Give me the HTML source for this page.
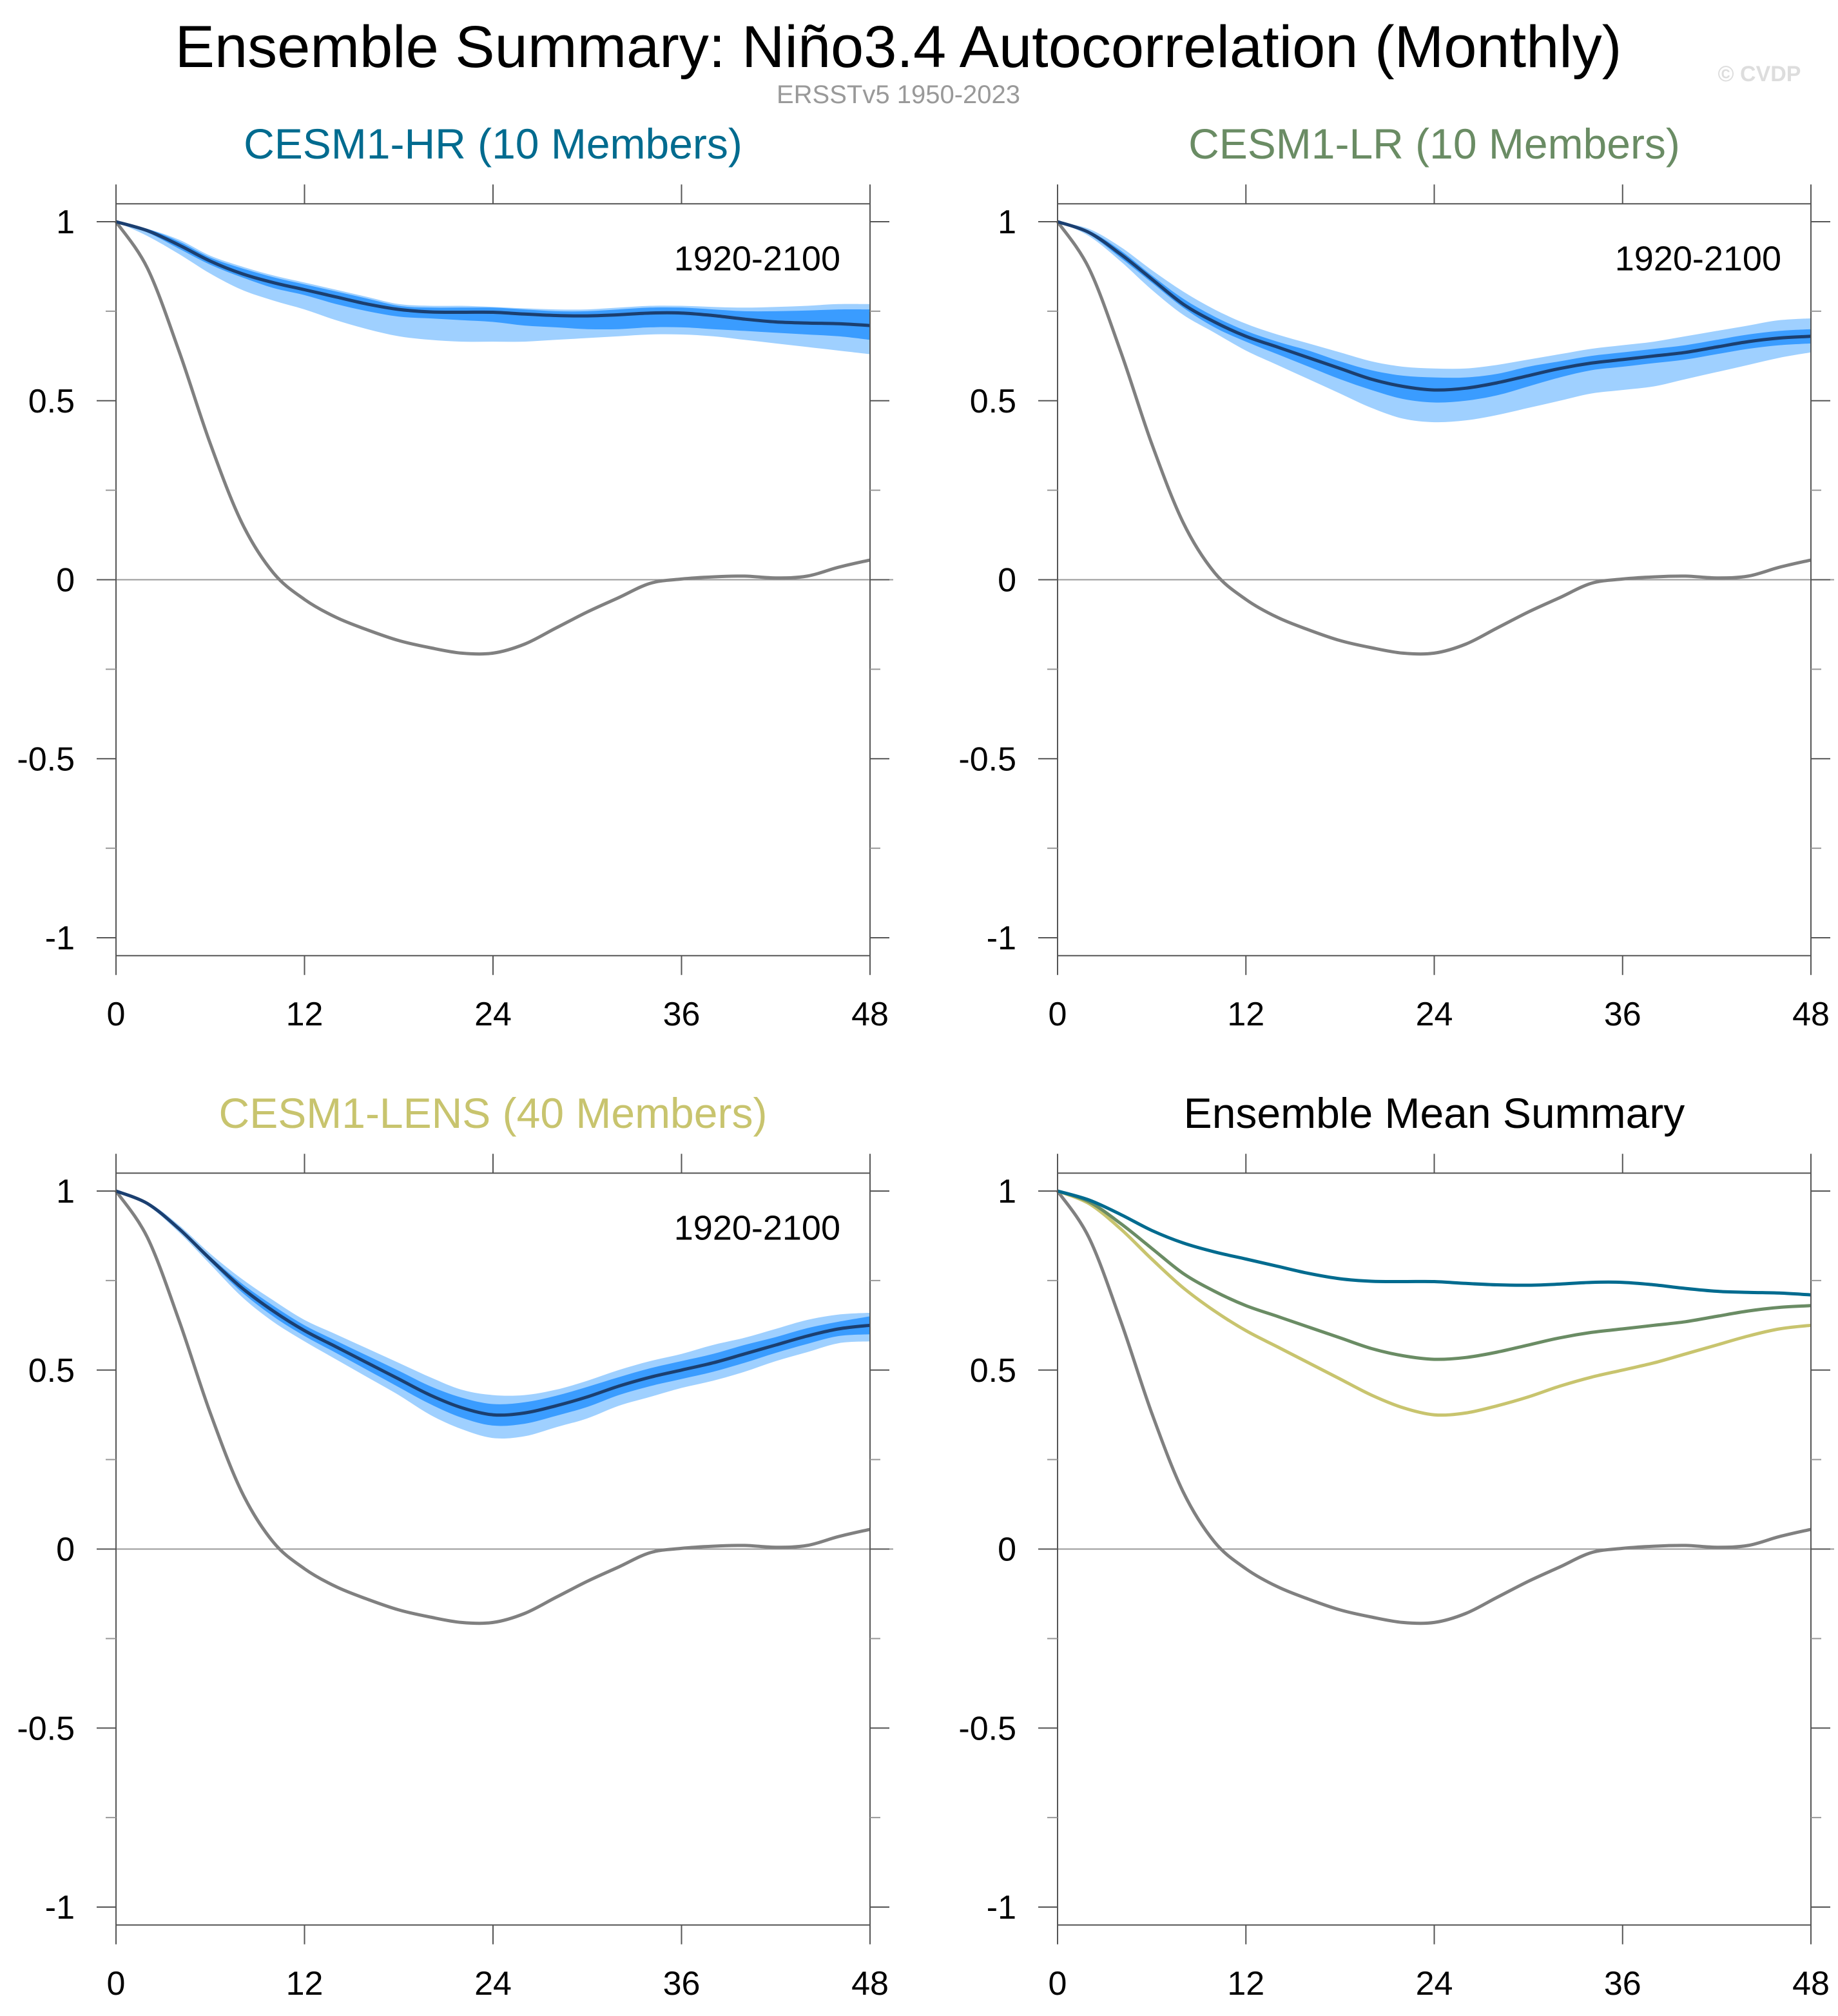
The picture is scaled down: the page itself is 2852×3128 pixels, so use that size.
<!DOCTYPE html>
<html><head><meta charset="utf-8">
<style>
html,body{margin:0;padding:0;background:#fff;}
svg{display:block;font-family:"Liberation Sans",sans-serif;}
</style></head>
<body>
<svg id="fig" width="2852" height="3128" viewBox="0 0 2852 3128" xmlns="http://www.w3.org/2000/svg">
<rect width="2852" height="3128" fill="#fff"/>
<text x="1394" y="104" font-size="92" text-anchor="middle" fill="#000">Ensemble Summary: Niño3.4 Autocorrelation (Monthly)</text>
<text x="1394" y="160" font-size="40" text-anchor="middle" fill="#999">ERSSTv5 1950-2023</text>
<text x="2730" y="126" font-size="34" font-weight="bold" text-anchor="middle" fill="#ddd">© CVDP</text>
</svg>
<script>
const months = [0,2,4,6,8,10,12,14,16,18,20,22,24,26,28,30,32,34,36,38,40,42,44,46,48];
const obs = [1,0.87,0.64,0.38,0.16,0.02,-0.055,-0.105,-0.14,-0.17,-0.19,-0.205,-0.205,-0.18,-0.135,-0.09,-0.05,-0.01,0.002,0.008,0.01,0.005,0.01,0.035,0.055];
const hrMean = [1,0.975,0.935,0.89,0.855,0.83,0.81,0.79,0.77,0.755,0.748,0.747,0.747,0.742,0.738,0.737,0.74,0.745,0.745,0.738,0.728,0.72,0.717,0.715,0.71];
const hrLightLo = [1,0.96,0.91,0.855,0.81,0.78,0.755,0.725,0.7,0.68,0.67,0.665,0.665,0.665,0.67,0.675,0.68,0.685,0.685,0.68,0.67,0.66,0.65,0.64,0.63];
const hrDarkLo = [1,0.97,0.925,0.88,0.845,0.815,0.795,0.77,0.75,0.735,0.73,0.725,0.72,0.71,0.705,0.7,0.7,0.705,0.705,0.7,0.695,0.69,0.685,0.68,0.67];
const hrDarkHi = [1,0.98,0.945,0.9,0.87,0.845,0.825,0.805,0.785,0.765,0.76,0.76,0.76,0.755,0.75,0.75,0.755,0.76,0.76,0.755,0.75,0.75,0.752,0.755,0.755];
const hrLightHi = [1,0.98,0.95,0.905,0.875,0.85,0.83,0.81,0.79,0.77,0.765,0.765,0.762,0.758,0.755,0.755,0.76,0.765,0.765,0.762,0.76,0.762,0.765,0.77,0.77];
const lrMean = [1,0.97,0.91,0.84,0.77,0.72,0.68,0.65,0.62,0.59,0.56,0.54,0.53,0.535,0.55,0.57,0.59,0.605,0.615,0.625,0.635,0.65,0.665,0.675,0.68];
const lrLightLo = [1,0.96,0.89,0.81,0.74,0.69,0.64,0.6,0.56,0.52,0.48,0.45,0.44,0.445,0.46,0.48,0.5,0.52,0.53,0.54,0.56,0.58,0.6,0.62,0.635];
const lrDarkLo = [1,0.965,0.9,0.83,0.76,0.705,0.665,0.63,0.595,0.56,0.53,0.505,0.495,0.5,0.515,0.54,0.565,0.585,0.595,0.605,0.615,0.63,0.645,0.655,0.66];
const lrDarkHi = [1,0.975,0.92,0.85,0.785,0.735,0.695,0.665,0.64,0.61,0.585,0.57,0.565,0.565,0.575,0.595,0.61,0.625,0.635,0.645,0.655,0.67,0.685,0.695,0.7];
const lrLightHi = [1,0.98,0.93,0.865,0.805,0.755,0.715,0.685,0.66,0.635,0.61,0.595,0.59,0.59,0.6,0.615,0.63,0.645,0.655,0.665,0.68,0.695,0.71,0.725,0.73];
const lensMean = [1,0.965,0.895,0.81,0.73,0.665,0.61,0.565,0.52,0.475,0.43,0.395,0.375,0.38,0.4,0.425,0.455,0.48,0.5,0.52,0.545,0.57,0.595,0.615,0.625];
const lensLightLo = [1,0.96,0.885,0.795,0.705,0.635,0.58,0.53,0.48,0.43,0.375,0.335,0.31,0.315,0.34,0.365,0.4,0.425,0.45,0.47,0.495,0.525,0.55,0.575,0.58];
const lensDarkLo = [1,0.962,0.89,0.803,0.718,0.65,0.595,0.548,0.5,0.452,0.405,0.367,0.345,0.35,0.372,0.397,0.43,0.455,0.475,0.495,0.52,0.548,0.573,0.595,0.6];
const lensDarkHi = [1,0.968,0.9,0.817,0.742,0.68,0.625,0.582,0.54,0.498,0.455,0.423,0.405,0.41,0.428,0.453,0.48,0.505,0.525,0.545,0.57,0.592,0.617,0.635,0.65];
const lensLightHi = [1,0.97,0.905,0.825,0.755,0.695,0.64,0.6,0.56,0.52,0.48,0.445,0.43,0.43,0.445,0.47,0.5,0.525,0.545,0.57,0.59,0.615,0.64,0.655,0.66];
const xTicks = [0,12,24,36,48];
const yTicks = [1,0.5,0,-0.5,-1];
const yTickLabels = ["1","0.5","0","-0.5","-1"];
const yMinor = [0.75,0.25,-0.25,-0.75];

const NS = "http://www.w3.org/2000/svg";
const fig = document.getElementById('fig');
function mk(tag, attrs, parent){const e=document.createElementNS(NS,tag);for(const k in attrs)e.setAttribute(k,attrs[k]);(parent||fig).appendChild(e);return e;}
function smooth(pts, move){
  let d = move ? `M${pts[0][0]},${pts[0][1]}` : `L${pts[0][0]},${pts[0][1]}`;
  for(let i=0;i<pts.length-1;i++){
    const p0=pts[Math.max(i-1,0)],p1=pts[i],p2=pts[i+1],p3=pts[Math.min(i+2,pts.length-1)];
    const c1=[p1[0]+(p2[0]-p0[0])/6,p1[1]+(p2[1]-p0[1])/6];
    const c2=[p2[0]-(p3[0]-p1[0])/6,p2[1]-(p3[1]-p1[1])/6];
    d+=`C${c1[0].toFixed(1)},${c1[1].toFixed(1)} ${c2[0].toFixed(1)},${c2[1].toFixed(1)} ${p2[0].toFixed(1)},${p2[1].toFixed(1)}`;
  }
  return d;
}
function panel(cfg){
  const g = mk('g',{});
  
  
  const X = m => cfg.x0 + (cfg.x1-cfg.x0)*m/48;
  const Y = v => cfg.y0 - (cfg.y0-cfg.ym)*(1-v)/2;
  const fTop = Y(1.05), fBot = Y(-1.05);
  const pts = arr => arr.map((v,i)=>[X(months[i]),Y(v)]);
  const band = (lo,hi,color,nm) => {
    const a = pts(hi), b = pts(lo).reverse();
    const p = mk('path',{d:smooth(a,true)+smooth(b,false)+'Z',fill:color,stroke:'none'},g);
    
    
  };
  if(cfg.bands){
    const bd = cfg.bands;
    band(bd[0],bd[3],'#9fd0ff','light-spread-band');
    band(bd[1],bd[2],'#3a9cff','dark-spread-band');
  }
  const zl = mk('line',{x1:cfg.x0,x2:cfg.x1+36,y1:Y(0),y2:Y(0),stroke:'#999','stroke-width':2},g);
  
  
  const line = (arr,color,nm,w) => {
    const p = mk('path',{d:smooth(pts(arr),true),fill:'none',stroke:color,'stroke-width':w||5,'stroke-linejoin':'round'},g);
    
    
  };
  line(obs,'#808080','observed-line');
  cfg.lines.forEach(l=>line(l[0],l[1],l[2]));
  const fr = mk('rect',{x:cfg.x0,y:fTop,width:cfg.x1-cfg.x0,height:fBot-fTop,fill:'none',stroke:'#555','stroke-width':2},g);
  
  
  xTicks.forEach(t=>{
    const x=X(t);
    mk('line',{x1:x,x2:x,y1:fBot,y2:fBot+30,stroke:'#555','stroke-width':2},g);
    mk('line',{x1:x,x2:x,y1:fTop,y2:fTop-30,stroke:'#555','stroke-width':2},g);
    const tx = mk('text',{x:x,y:fBot+108,'font-size':52,'text-anchor':'middle',fill:'#000'},g);
    tx.textContent = t;
    
    
  });
  yTicks.forEach((t,i)=>{
    const y=Y(t);
    mk('line',{x1:cfg.x0-30,x2:cfg.x0,y1:y,y2:y,stroke:'#555','stroke-width':2},g);
    mk('line',{x1:cfg.x1,x2:cfg.x1+30,y1:y,y2:y,stroke:'#555','stroke-width':2},g);
    const tx = mk('text',{x:cfg.x0-64,y:y+18,'font-size':52,'text-anchor':'end',fill:'#000'},g);
    tx.textContent = yTickLabels[i];
    
    
  });
  yMinor.forEach(t=>{
    const y=Y(t);
    mk('line',{x1:cfg.x0-16,x2:cfg.x0,y1:y,y2:y,stroke:'#999','stroke-width':2},g);
    mk('line',{x1:cfg.x1,x2:cfg.x1+16,y1:y,y2:y,stroke:'#999','stroke-width':2},g);
  });
  const ti = mk('text',{x:(cfg.x0+cfg.x1)/2,y:fTop-70,'font-size':66,'text-anchor':'middle',fill:cfg.tcolor},g);
  ti.textContent = cfg.title;
  
  
  if(cfg.period){
    const pe = mk('text',{x:cfg.x1-46,y:Y(0.9)+20,'font-size':54,'text-anchor':'end',fill:'#000'},g);
    pe.textContent = cfg.period;
    
    
  }
}
panel({name:'panel-cesm1-hr',x0:180,x1:1350,y0:344,ym:1455,title:'CESM1-HR (10 Members)',tcolor:'#006b8f',period:'1920-2100',
  bands:[hrLightLo,hrDarkLo,hrDarkHi,hrLightHi],lines:[[hrMean,'#1b3f70','ensemble-mean-line']]});
panel({name:'panel-cesm1-lr',x0:1641,x1:2810,y0:344,ym:1455,title:'CESM1-LR (10 Members)',tcolor:'#6a8c64',period:'1920-2100',
  bands:[lrLightLo,lrDarkLo,lrDarkHi,lrLightHi],lines:[[lrMean,'#1b3f70','ensemble-mean-line']]});
panel({name:'panel-cesm1-lens',x0:180,x1:1350,y0:1848,ym:2959,title:'CESM1-LENS (40 Members)',tcolor:'#c8c46e',period:'1920-2100',
  bands:[lensLightLo,lensDarkLo,lensDarkHi,lensLightHi],lines:[[lensMean,'#1b3f70','ensemble-mean-line']]});
panel({name:'panel-ensemble-mean-summary',x0:1641,x1:2810,y0:1848,ym:2959,title:'Ensemble Mean Summary',tcolor:'#000',
  lines:[[lensMean,'#c8c46e','lens-mean-line'],[lrMean,'#6a8c64','lr-mean-line'],[hrMean,'#006b8f','hr-mean-line']]});
</script>
</body></html>
